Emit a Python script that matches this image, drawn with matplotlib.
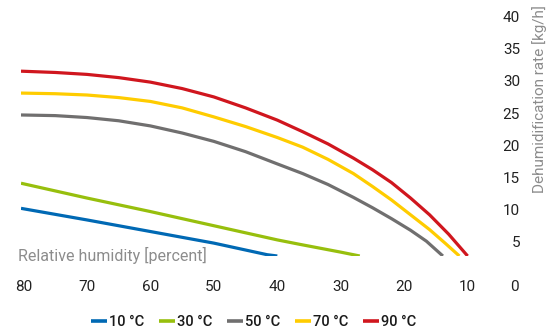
import matplotlib
matplotlib.use("Agg")
import matplotlib.pyplot as plt

plt.rcParams['font.family'] = ['Roboto', 'DejaVu Sans']

# relative humidity [%] and dehumidification rate [kg/h]
rh_10 = [80.4, 70, 60, 50, 41.6, 40]
rate_10 = [10.2, 8.4, 6.6, 4.8, 3.0, 2.8]

rh_30 = [80.4, 70, 60, 50, 40, 36.4, 30, 27]
rate_30 = [14.1, 11.8, 9.7, 7.5, 5.3, 4.6, 3.4, 2.8]

rh_50 = [80.4, 75, 70, 65, 60, 55, 50, 45, 40, 36, 32, 28, 25, 22, 19, 16.5, 13.9]
rate_50 = [24.7, 24.6, 24.3, 23.8, 23.0, 21.9, 20.6, 19.0, 17.1, 15.6, 13.9,
           11.9, 10.3, 8.6, 6.8, 5.1, 2.8]

rh_70 = [80.4, 75, 70, 65, 60, 55, 50, 45, 40, 36, 32, 28, 25, 22, 19, 16, 13.5, 11.3]
rate_70 = [28.1, 28.0, 27.8, 27.4, 26.8, 25.8, 24.4, 22.9, 21.2, 19.7, 17.8,
           15.6, 13.6, 11.5, 9.2, 6.9, 4.75, 2.8]

rh_90 = [80.4, 75, 70, 65, 60, 55, 50, 45, 40, 36, 32, 28, 25, 22, 19, 16, 13, 10]
rate_90 = [31.5, 31.3, 31.0, 30.5, 29.8, 28.8, 27.5, 25.8, 23.9, 22.1, 20.2,
           18.0, 16.2, 14.2, 11.8, 9.2, 6.2, 2.8]

labels = ['10 °C', '30 °C', '50 °C', '70 °C', '90 °C']
colors = ['#0069b4', '#97bf0d', '#706f6f', '#ffcc00', '#d0161e']

x_ticks = [80, 70, 60, 50, 40, 30, 20, 10]
y_ticks = [5, 10, 15, 20, 25, 30, 35, 40]

fig = plt.figure(figsize=(5.57, 3.34), dpi=100)
ax = fig.add_axes([21 / 557, 78 / 334, 472 / 557, 246 / 334])

series = [(rh_10, rate_10), (rh_30, rate_30), (rh_50, rate_50),
          (rh_70, rate_70), (rh_90, rate_90)]
for (xs, ys), lab, col in zip(series, labels, colors):
    ax.plot(xs, ys, color=col, lw=2.3, label=lab, solid_capstyle='butt',
            solid_joinstyle='round')

ax.set_xlim(80.4, 6.0)
ax.set_ylim(2.8, 41)

for s in ax.spines.values():
    s.set_visible(False)

ax.set_xticks(x_ticks)
ax.set_xticklabels([str(v) for v in x_ticks])
ax.set_yticks(y_ticks)
ax.set_yticklabels([str(v) for v in y_ticks])
ax.yaxis.tick_right()
ax.tick_params(axis='both', length=0, labelsize=11, colors='#222222')
ax.tick_params(axis='x', pad=17)
ax.tick_params(axis='y', pad=19.5)
for t in ax.get_yticklabels():
    t.set_horizontalalignment('right')

# lone "0" at the bottom right corner
fig.text(514 / 557, 1 - 287 / 334, '0', ha='center', va='center',
         fontsize=11, color='#222222')

fig.text(18 / 557, 1 - 255 / 334, 'Relative humidity [percent]',
         ha='left', va='center', fontsize=11.5, color='#8c8c8c')
fig.text(540 / 557, 1 - 5 / 334, 'Dehumidification rate [kg/h]',
         rotation=90, ha='center', va='top', fontsize=11, color='#8c8c8c')

leg = fig.legend(loc='center', bbox_to_anchor=(253.5 / 557, 1 - 322 / 334),
                 ncol=5, frameon=False, handlelength=1.1, handletextpad=0.15,
                 columnspacing=1.0, prop={'size': 10.5, 'weight': 'medium'})
for line in leg.get_lines():
    line.set_linewidth(2.6)
for t in leg.get_texts():
    t.set_color('#1a1a1a')

fig.savefig('out.png', dpi=100)
